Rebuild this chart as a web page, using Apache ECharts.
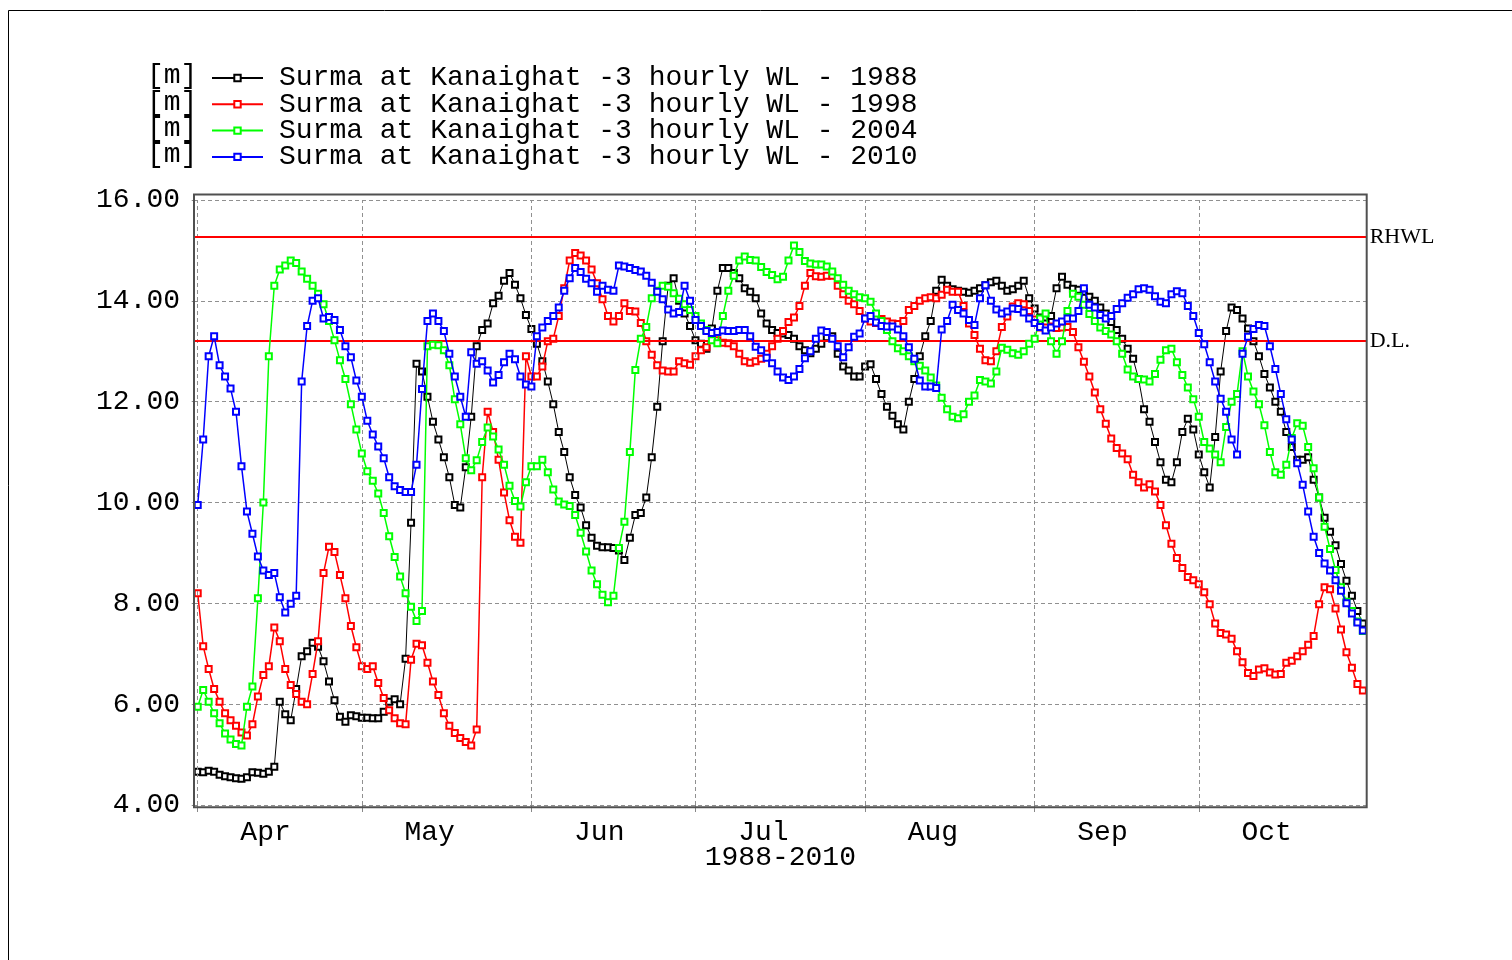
<!DOCTYPE html>
<html>
<head>
<meta charset="utf-8">
<script src="https://cdn.jsdelivr.net/npm/echarts@6/dist/echarts.min.js"></script>
<style>
html,body{margin:0;padding:0;background:#fff;}
#c{width:1512px;height:960px;}
</style>
</head>
<body>
<div id="c"></div>
<script>
// ---- data (day offsets from 1 April; one value per day) ----
const seriesNames = [
  'Surma at Kanaighat -3 hourly WL - 1988',
  'Surma at Kanaighat -3 hourly WL - 1998',
  'Surma at Kanaighat -3 hourly WL - 2004',
  'Surma at Kanaighat -3 hourly WL - 2010'
];
const unitLabel = '[m]';
const axisTitle = '1988-2010';

const wl1988 = [
  4.66,4.65,4.68,4.66,4.6,4.57,4.55,4.53,4.52,4.55,
  4.65,4.64,4.62,4.66,4.76,6.05,5.8,5.68,6.3,6.95,
  7.05,7.22,7.14,6.85,6.45,6.08,5.75,5.65,5.78,5.76,
  5.73,5.73,5.72,5.72,5.85,6.05,6.1,6.0,6.9,9.6,
  12.75,12.6,12.1,11.6,11.25,10.9,10.5,9.95,9.9,10.7,
  11.7,13.1,13.42,13.55,13.95,14.1,14.4,14.55,14.32,14.05,
  13.72,13.44,13.15,12.8,12.4,11.95,11.4,11.0,10.5,10.15,
  9.9,9.55,9.3,9.14,9.11,9.11,9.1,9.05,8.86,9.3,
  9.75,9.79,10.1,10.9,11.9,13.2,14.3,14.45,14.0,13.75,
  13.5,13.22,13.15,13.05,13.45,14.2,14.65,14.65,14.55,14.45,
  14.25,14.18,14.05,13.75,13.55,13.42,13.36,13.35,13.32,13.25,
  13.1,13.02,12.96,13.05,13.15,13.28,13.3,12.95,12.7,12.62,
  12.5,12.5,12.7,12.74,12.45,12.15,11.9,11.72,11.55,11.45,
  12.0,12.45,12.9,13.3,13.6,14.2,14.42,14.3,14.23,14.2,
  14.18,14.16,14.2,14.25,14.31,14.37,14.4,14.3,14.2,14.23,
  14.3,14.4,14.05,13.85,13.67,13.55,13.7,14.25,14.48,14.32,
  14.24,14.22,14.18,14.08,14.0,13.87,13.75,13.58,13.42,13.25,
  13.05,12.85,12.45,11.85,11.6,11.2,10.8,10.45,10.4,10.8,
  11.4,11.66,11.45,10.95,10.6,10.3,11.3,12.6,13.4,13.87,
  13.82,13.65,13.45,13.2,12.9,12.55,12.28,12.0,11.8,11.4,
  11.1,10.85,10.85,10.9,10.45,10.1,9.7,9.42,9.15,8.78,
  8.45,8.15,7.85,7.6
];
const wl1998 = [
  8.2,7.15,6.7,6.3,6.05,5.82,5.68,5.57,5.44,5.38,
  5.6,6.15,6.58,6.75,7.52,7.25,6.7,6.38,6.2,6.05,
  6.0,6.6,7.25,8.6,9.12,9.02,8.56,8.1,7.55,7.13,
  6.75,6.7,6.75,6.42,6.12,5.88,5.72,5.62,5.6,6.88,
  7.2,7.17,6.82,6.45,6.18,5.82,5.57,5.43,5.33,5.25,
  5.18,5.5,10.5,11.8,11.4,10.85,10.2,9.65,9.32,9.2,
  12.9,12.5,12.5,12.7,13.2,13.25,13.7,14.25,14.8,14.95,
  14.9,14.8,14.62,14.35,14.03,13.7,13.59,13.7,13.95,13.8,
  13.79,13.56,13.2,12.93,12.72,12.62,12.6,12.6,12.8,12.76,
  12.73,12.9,13.02,13.08,13.26,13.22,13.17,13.16,13.1,12.95,
  12.8,12.77,12.8,12.85,12.95,13.1,13.25,13.4,13.58,13.67,
  13.9,14.3,14.55,14.49,14.48,14.5,14.5,14.3,14.13,14.0,
  13.93,13.8,13.65,13.59,13.56,13.64,13.59,13.55,13.54,13.6,
  13.82,13.9,14.0,14.05,14.07,14.05,14.12,14.22,14.18,14.18,
  13.9,13.55,13.32,13.05,12.82,12.8,13.0,13.48,13.69,13.89,
  13.95,13.93,13.8,13.63,13.47,13.47,13.49,13.46,13.47,13.48,
  13.38,13.08,12.79,12.5,12.18,11.85,11.56,11.27,11.08,10.97,
  10.86,10.55,10.4,10.3,10.36,10.22,9.95,9.55,9.18,8.9,
  8.7,8.52,8.46,8.38,8.22,7.98,7.6,7.41,7.38,7.3,
  7.05,6.83,6.62,6.56,6.69,6.71,6.63,6.59,6.6,6.82,
  6.86,6.95,7.05,7.18,7.35,7.98,8.32,8.28,7.9,7.48,
  7.03,6.72,6.4,6.27
];
const wl2004 = [
  5.95,6.28,6.05,5.82,5.62,5.42,5.3,5.21,5.18,5.95,
  6.35,8.1,10.0,12.9,14.3,14.62,14.7,14.8,14.75,14.58,
  14.44,14.3,14.14,13.93,13.6,13.22,12.82,12.45,11.95,11.45,
  10.97,10.62,10.43,10.18,9.79,9.33,8.92,8.53,8.2,7.93,
  7.65,7.85,13.1,13.13,13.12,13.02,12.72,12.05,11.55,10.88,
  10.64,10.84,11.2,11.49,11.31,11.05,10.75,10.33,10.03,9.92,
  10.4,10.72,10.72,10.85,10.6,10.26,10.02,9.96,9.93,9.75,
  9.4,9.03,8.65,8.38,8.17,8.02,8.15,9.1,9.62,11.0,
  12.63,13.25,13.48,14.05,14.2,14.3,14.28,14.15,14.04,13.93,
  13.82,13.7,13.55,13.42,13.22,13.16,13.7,14.2,14.5,14.8,
  14.88,14.81,14.8,14.67,14.57,14.51,14.43,14.48,14.8,15.1,
  14.97,14.79,14.74,14.72,14.72,14.68,14.58,14.45,14.32,14.2,
  14.13,14.07,14.05,13.98,13.75,13.6,13.42,13.2,13.06,13.0,
  12.9,12.8,12.71,12.62,12.48,12.32,12.08,11.85,11.7,11.67,
  11.75,12.0,12.12,12.43,12.4,12.36,12.6,13.07,13.03,12.96,
  12.93,13.0,13.15,13.25,13.65,13.75,13.2,12.95,13.2,13.8,
  14.14,14.08,13.92,13.74,13.6,13.47,13.4,13.33,13.2,12.95,
  12.64,12.5,12.45,12.44,12.4,12.55,12.83,13.02,13.05,12.78,
  12.53,12.28,12.05,11.7,11.2,11.07,10.95,10.8,11.5,12.0,
  12.15,13.0,12.5,12.2,11.95,11.53,11.0,10.6,10.55,10.75,
  11.28,11.57,11.52,11.1,10.68,10.1,9.52,9.08,8.66,8.32,
  8.03,7.85,7.64,7.45
];
const wl2010 = [
  9.95,11.25,12.9,13.3,12.72,12.5,12.26,11.8,10.72,9.82,
  9.38,8.93,8.65,8.56,8.6,8.12,7.82,7.99,8.15,12.4,
  13.5,14.0,14.05,13.65,13.68,13.62,13.42,13.1,12.88,12.42,
  12.1,11.62,11.35,11.11,10.88,10.5,10.32,10.25,10.21,10.21,
  10.75,12.25,13.6,13.75,13.6,13.4,12.95,12.5,12.1,11.7,
  12.98,12.75,12.8,12.62,12.38,12.53,12.78,12.95,12.84,12.5,
  12.34,12.3,13.3,13.47,13.6,13.7,13.87,14.2,14.45,14.65,
  14.57,14.44,14.35,14.18,14.3,14.22,14.2,14.7,14.68,14.65,
  14.61,14.58,14.5,14.36,14.18,14.03,13.83,13.75,13.78,14.3,
  14.0,13.62,13.5,13.4,13.36,13.38,13.41,13.4,13.4,13.42,
  13.42,13.3,13.09,13.02,12.87,12.76,12.6,12.48,12.43,12.5,
  12.65,12.86,13.0,13.25,13.41,13.38,13.25,13.1,12.88,13.08,
  13.29,13.35,13.65,13.7,13.57,13.5,13.49,13.49,13.43,13.3,
  13.08,12.85,12.42,12.3,12.3,12.27,13.43,13.6,13.92,13.82,
  13.75,13.62,13.52,14.05,14.31,14.0,13.83,13.75,13.79,13.85,
  13.84,13.77,13.65,13.56,13.48,13.41,13.47,13.55,13.59,13.65,
  13.65,13.8,14.25,13.92,13.87,13.72,13.65,13.7,13.84,13.95,
  14.06,14.13,14.23,14.25,14.22,14.09,13.98,13.95,14.13,14.19,
  14.15,13.9,13.7,13.36,13.14,12.78,12.4,12.06,11.8,11.25,
  10.95,12.95,13.29,13.44,13.52,13.5,13.1,12.65,12.15,11.65,
  11.25,10.78,10.35,9.82,9.32,9.0,8.79,8.65,8.46,8.25,
  8.0,7.8,7.62,7.46
];

// month starts (day offsets from 1 Apr) and label positions
const monthNames = ['Apr','May','Jun','Jul','Aug','Sep','Oct'];
const monthStarts = [0, 30, 61, 91, 122, 153, 183];
const monthLabelAt = [12.4, 42.4, 73.4, 103.4, 134.4, 165.4, 195.4];
const xRange = [-0.68, 213.7];
const yRange = [4, 16];
const yStep = 2;
const refLines = [
  { name: 'RHWL', value: 15.27 },
  { name: 'D.L.', value: 13.2 }
];

// ---- chart ----
const MONO = "'Liberation Mono', 'DejaVu Sans Mono', monospace";
const SERIF = "'Liberation Serif', 'DejaVu Serif', serif";
const colors = ['#000000', '#ff0000', '#00ff00', '#0000ff'];
const lineWidths = [1, 1.5, 1.5, 1.5];
const allValues = [wl1988, wl1998, wl2004, wl2010];

const chart = echarts.init(document.getElementById('c'), null, { renderer: 'canvas', width: 1512, height: 960 });

const dataSeries = allValues.map((arr, k) => ({
  name: seriesNames[k],
  type: 'line',
  data: arr.map((v, i) => [i, v]),
  symbol: 'emptyRect',
  symbolSize: 6,
  showAllSymbol: true,
  lineStyle: { color: colors[k], width: lineWidths[k] },
  itemStyle: { color: colors[k], borderColor: colors[k], borderWidth: lineWidths[k] },
  z: 3 + k,
  silent: true,
  animation: false
}));

const legendRows = [76, 102.3, 128.6, 155];

const option = {
  backgroundColor: '#ffffff',
  animation: false,
  grid: { left: 194, right: 145.3, top: 200, bottom: 155, containLabel: false },
  legend: {
    orient: 'vertical',
    left: 206,
    top: 59,
    itemWidth: 51,
    itemHeight: 8,
    itemGap: -1.7,
    selectedMode: false,
    data: seriesNames,
    textStyle: { fontFamily: MONO, fontSize: 28, color: '#000', lineHeight: 26, padding: [0, 0, 0, 11] }
  },
  xAxis: {
    type: 'value',
    min: xRange[0],
    max: xRange[1],
    axisLine: { show: false },
    splitLine: { show: false },
    axisTick: { show: true, customValues: monthStarts, length: 7, lineStyle: { color: '#888' } },
    axisLabel: {
      customValues: monthLabelAt,
      formatter: v => { const i = monthLabelAt.indexOf(v); return i >= 0 ? monthNames[i] : ''; },
      fontFamily: MONO, fontSize: 28, color: '#000', margin: 14
    },
    name: axisTitle,
    nameLocation: 'middle',
    nameGap: 39,
    nameMoveOverlap: false,
    nameTextStyle: { fontFamily: MONO, fontSize: 28, color: '#000' }
  },
  yAxis: {
    type: 'value',
    min: yRange[0],
    max: yRange[1],
    interval: yStep,
    axisLine: { show: false },
    axisTick: { show: true, length: 6, lineStyle: { color: '#888' } },
    splitLine: { show: true, lineStyle: { type: [4, 3], color: '#909090', width: 1 } },
    axisLabel: { formatter: v => v.toFixed(2), fontFamily: MONO, fontSize: 28, color: '#000', margin: 14 }
  },
  graphic: [
    { type: 'rect', silent: true, z: 0, shape: { x: 8.5, y: 10.5, width: 1600, height: 1000 }, style: { fill: 'none', stroke: '#000', lineWidth: 1 } },
    { type: 'rect', silent: true, z: 100, shape: { x: 194, y: 194.5, width: 1172.7, height: 612.8 }, style: { fill: 'none', stroke: '#505050', lineWidth: 2 } }
  ].concat(legendRows.map(y => ({
    type: 'text', silent: true, x: 147, y: y,
    style: { text: unitLabel, font: "28px 'Liberation Mono'", fill: '#000', verticalAlign: 'middle', align: 'left' }
  }))),
  series: [
    {
      type: 'line', data: [], z: 1, silent: true,
      markLine: {
        silent: true, symbol: 'none', animation: false,
        label: { show: false },
        lineStyle: { type: [4, 3], color: '#909090', width: 1 },
        data: monthStarts.map(d => ({ xAxis: d }))
      }
    },
    {
      type: 'line', data: [], z: 2, silent: true,
      markLine: {
        silent: true, symbol: 'none', animation: false,
        lineStyle: { type: 'solid', color: '#ff0000', width: 2 },
        label: { show: true, position: 'end', formatter: '{b}', fontFamily: SERIF, fontSize: 22, color: '#000', distance: 3 },
        data: refLines.map(r => ({ name: r.name, yAxis: r.value }))
      }
    }
  ].concat(dataSeries)
};

chart.setOption(option);
</script>
</body>
</html>
